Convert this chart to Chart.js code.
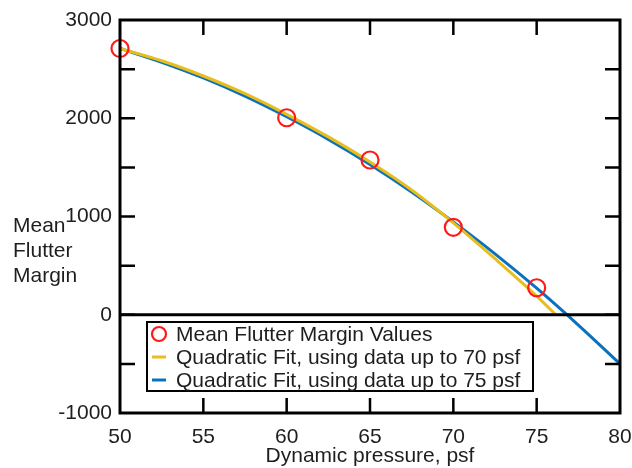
<!DOCTYPE html>
<html>
<head>
<meta charset="utf-8">
<script src="https://cdn.jsdelivr.net/npm/chart.js@4.4.1/dist/chart.umd.min.js"></script>
<style>
  body { margin: 0; background: #fff; }
  canvas { display: block; }
</style>
</head>
<body>
<canvas id="chart" width="632" height="468"></canvas>
<script>
// --- DATA ---
const pressure = [50, 60, 65, 70, 75];
const marginValues = [2710, 2005, 1575, 890, 275];

const fit70Pressure = [50, 52.5, 55, 57.5, 60, 62.5, 65, 67.5, 70, 72.5, 75, 76.15];
const fit70Margin = [2710, 2585, 2430, 2250, 2040, 1810, 1555, 1270, 935, 570, 190, 0];

const fit75Pressure = [50, 52.5, 55, 57.5, 60, 62.5, 65, 67.5, 70, 72.5, 75, 77.5, 80];
const fit75Margin = [2710, 2570, 2410, 2225, 2015, 1785, 1530, 1250, 945, 620, 270, -105, -500];

const xTickValues = [50, 55, 60, 65, 70, 75, 80];
const yTickValues = [-1000, 0, 1000, 2000, 3000];

const seriesLabels = [
  'Mean Flutter Margin Values',
  'Quadratic Fit, using data up to 70 psf',
  'Quadratic Fit, using data up to 75 psf'
];
const yTitleLines = ['Mean', 'Flutter', 'Margin'];
const xTitle = 'Dynamic pressure, psf';

// --- STYLE ---
const FONT = '"Liberation Sans", Arial, Helvetica, sans-serif';
const TEXT = '#1e1e1e';
const RED = '#ff1a1a';
const YELLOW = '#e8bd1c';
const BLUE = '#0a72bd';

const toPoints = (xs, ys) => xs.map((x, i) => ({ x: x, y: ys[i] }));

// frame, inside ticks, zero line, legend box and axis titles
const decorPlugin = {
  id: 'decor',
  afterDatasetsDraw(chart) {
    const ctx = chart.ctx;
    const area = chart.chartArea;
    const xs = chart.scales.x;
    const ys = chart.scales.y;
    ctx.save();
    ctx.strokeStyle = '#000';
    ctx.lineCap = 'butt';

    // inside ticks
    ctx.lineWidth = 2.5;
    const tickLen = 15;
    ys.ticks.forEach(t => {
      const py = ys.getPixelForValue(t.value);
      if (py <= area.top + 1 || py >= area.bottom - 1) return;
      ctx.beginPath();
      ctx.moveTo(area.left, py); ctx.lineTo(area.left + tickLen, py);
      ctx.moveTo(area.right, py); ctx.lineTo(area.right - tickLen, py);
      ctx.stroke();
    });
    xs.ticks.forEach(t => {
      const px = xs.getPixelForValue(t.value);
      if (px <= area.left + 1 || px >= area.right - 1) return;
      ctx.beginPath();
      ctx.moveTo(px, area.bottom); ctx.lineTo(px, area.bottom - tickLen);
      ctx.moveTo(px, area.top); ctx.lineTo(px, area.top + tickLen);
      ctx.stroke();
    });

    // zero line
    const y0 = ys.getPixelForValue(0);
    ctx.lineWidth = 3;
    ctx.beginPath();
    ctx.moveTo(area.left, y0); ctx.lineTo(area.right, y0);
    ctx.stroke();

    // frame
    ctx.lineWidth = 3;
    ctx.strokeRect(area.left, area.top, area.right - area.left, area.bottom - area.top);

    // legend box
    const lx = 147, ly = 322, lw = 386, lh = 69;
    ctx.fillStyle = '#fff';
    ctx.fillRect(lx, ly, lw, lh);
    ctx.lineWidth = 2;
    ctx.strokeRect(lx, ly, lw, lh);
    const rows = [334, 357, 380];
    const ds = chart.data.datasets;
    ctx.font = '21px ' + FONT;
    ctx.textAlign = 'left';
    ctx.textBaseline = 'middle';
    ds.forEach((d, i) => {
      const ry = rows[i];
      if (i === 0) {
        ctx.strokeStyle = d.borderColor;
        ctx.lineWidth = 2.2;
        ctx.beginPath();
        ctx.arc(159, ry, 7, 0, Math.PI * 2);
        ctx.stroke();
      } else {
        ctx.strokeStyle = d.borderColor;
        ctx.lineWidth = 3;
        ctx.beginPath();
        ctx.moveTo(152, ry); ctx.lineTo(166, ry);
        ctx.stroke();
      }
      ctx.fillStyle = TEXT;
      ctx.fillText(d.label, 176, ry + 1);
    });

    // axis titles
    ctx.fillStyle = TEXT;
    yTitleLines.forEach((line, i) => {
      ctx.fillText(line, 13, 226 + i * 25);
    });
    ctx.textAlign = 'center';
    ctx.fillText(xTitle, (area.left + area.right) / 2, 456);
    ctx.restore();
  }
};

new Chart(document.getElementById('chart'), {
  type: 'scatter',
  data: {
    datasets: [
      {
        label: seriesLabels[0],
        data: toPoints(pressure, marginValues),
        borderColor: RED,
        backgroundColor: 'rgba(0,0,0,0)',
        pointRadius: 8.5,
        pointBorderWidth: 2.2,
        showLine: false,
        clip: false,
        order: 0
      },
      {
        label: seriesLabels[1],
        data: toPoints(fit70Pressure, fit70Margin),
        borderColor: YELLOW,
        borderWidth: 3,
        pointRadius: 0,
        showLine: true,
        cubicInterpolationMode: 'monotone',
        order: 1
      },
      {
        label: seriesLabels[2],
        data: toPoints(fit75Pressure, fit75Margin),
        borderColor: BLUE,
        borderWidth: 3,
        pointRadius: 0,
        showLine: true,
        cubicInterpolationMode: 'monotone',
        order: 2
      }
    ]
  },
  options: {
    responsive: false,
    devicePixelRatio: 1,
    animation: false,
    layout: { padding: { top: 20, right: 0, left: 0, bottom: 0 } },
    plugins: { legend: { display: false }, tooltip: { enabled: false } },
    scales: {
      x: {
        type: 'linear',
        min: 50, max: 80,
        afterFit: s => { s.height = 55; s.paddingRight = 12; s.paddingLeft = 0; },
        afterBuildTicks: s => { s.ticks = xTickValues.map(v => ({ value: v })); },
        grid: { display: false, drawTicks: false },
        border: { display: false },
        ticks: { padding: 12, color: TEXT, font: { family: FONT, size: 21 } }
      },
      y: {
        type: 'linear',
        min: -1000, max: 3000,
        afterFit: s => { s.width = 120; s.paddingTop = 0; s.paddingBottom = 0; },
        ticks: {
          stepSize: 500,
          autoSkip: false,
          padding: 8,
          color: TEXT,
          font: { family: FONT, size: 21 },
          callback: v => (yTickValues.includes(v) ? String(v) : '')
        },
        grid: { display: false, drawTicks: false },
        border: { display: false }
      }
    }
  },
  plugins: [decorPlugin]
});
</script>
</body>
</html>
